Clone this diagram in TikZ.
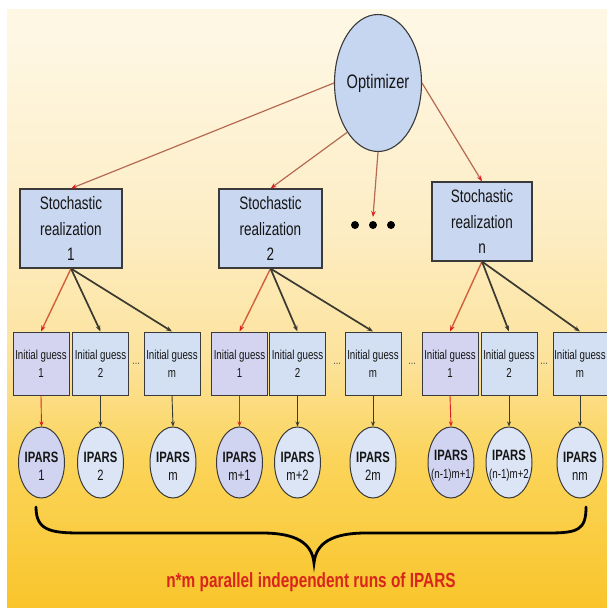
\documentclass[tikz,border=0pt]{standalone}
\usepackage{fontspec}
\setmainfont{Liberation Sans}
\newfontfamily\nf[FakeStretch=0.75]{Liberation Sans}
\usetikzlibrary{arrows.meta,shapes.geometric}
\definecolor{bgA}{HTML}{F9C52B}
\definecolor{bgB}{HTML}{FBD45A}
\definecolor{bgC}{HTML}{FCE29A}
\definecolor{bgD}{HTML}{FDEDC4}
\definecolor{bgE}{HTML}{FEF7E4}
\definecolor{bordc}{HTML}{3A3A3A}
\definecolor{optfill}{HTML}{C6D5F0}
\definecolor{sfill}{HTML}{C9D7F0}
\definecolor{gfill}{HTML}{D3E0F3}
\definecolor{gfillp}{HTML}{D4D4F0}
\definecolor{pfill}{HTML}{DBE5F5}
\definecolor{pfillp}{HTML}{D1D4F1}
\definecolor{oline}{HTML}{B56A52}
\definecolor{otip}{HTML}{E02020}
\definecolor{rline}{HTML}{D2603A}
\definecolor{bline}{HTML}{3A3A30}
\definecolor{textred}{HTML}{D8261C}
\definecolor{txt}{HTML}{151515}
\pgfdeclareverticalshading{bgshade}{100bp}{color(0bp)=(bgA); color(25bp)=(bgA); color(37.5bp)=(bgB); color(45.5bp)=(bgC); color(56.5bp)=(bgD); color(73bp)=(bgE); color(100bp)=(bgE)}
\begin{document}
\begin{tikzpicture}[x=1pt,y=-1pt,
  opt/.style={ellipse, draw=bordc, line width=1.1pt, fill=optfill, inner sep=0pt, minimum width=87pt, minimum height=137pt},
  sbox/.style={rectangle, draw=bordc, line width=1.1pt, fill=sfill, inner sep=0pt, minimum height=79pt, align=center, text=txt, font={\nf\fontsize{18}{25.5}\selectfont}},
  gbox/.style={rectangle, draw=bordc, line width=1pt, fill=gfill, inner sep=0pt, minimum width=56pt, minimum height=63pt, align=center, text=txt, font={\nf\fontsize{13}{18}\selectfont}},
  ipars/.style={ellipse, draw=bordc, line width=1pt, fill=pfill, inner sep=0pt, minimum width=46pt, minimum height=71pt},
  iptext/.style={align=center, text=txt, inner sep=0pt, yshift=-3.5pt, font={\nf\fontsize{15}{18}\selectfont}},
  gdots/.style={text=gray!60!black, inner sep=0pt, font={\nf\fontsize{12}{12}\selectfont}},
  bigdot/.style={circle, fill=black, inner sep=0pt, minimum size=8pt},
  oarrow/.style={draw=oline, line width=1.2pt, -{Stealth[length=6pt,width=4.5pt,color=otip]}},
  rarrow/.style={draw=rline, line width=1.4pt, -{Stealth[length=6pt,width=4.5pt,color=otip]}},
  barrow/.style={draw=bline, line width=1.7pt, -{Stealth[length=6pt,width=4.5pt]}},
  rthin/.style={draw=otip, line width=0.9pt, -{Stealth[length=5pt,width=4pt]}},
  bthin/.style={draw=bline, line width=0.9pt, -{Stealth[length=5pt,width=4pt]}}
]
\useasboundingbox (0,0) rectangle (607,608);
\fill[white] (0,0) rectangle (607,608);
\shade[shading=bgshade] (7,9) rectangle (607,608);

% optimizer
\node[opt, label={[text=txt, font={\nf\fontsize{19.5}{19.5}\selectfont}]center:Optimizer}] (opt) at (378,83) {};

% stochastic realizations
\node[sbox, minimum width=102pt] (s1) at (71,228.5) {Stochastic\\realization\\1};
\node[sbox, minimum width=103pt] (s2) at (270.5,228.5) {Stochastic\\realization\\2};
\node[sbox, minimum width=100pt] (sn) at (482,221.5) {Stochastic\\realization\\n};

% big dots
\node[bigdot] (d1) at (355,225) {};
\node[bigdot] (d2) at (373,225) {};
\node[bigdot] (d3) at (391,225) {};
\coordinate (dtop) at (373,217);

% initial guesses
\node[gbox, fill=gfillp] (g11) at (41,363.5) {Initial guess\\1};
\node[gbox] (g12) at (100.5,363.5) {Initial guess\\2};
\node[gbox] (g1m) at (172,363.5) {Initial guess\\m};
\node[gbox, fill=gfillp] (g21) at (239.5,363.5) {Initial guess\\1};
\node[gbox] (g22) at (297.5,363.5) {Initial guess\\2};
\node[gbox] (g2m) at (373,363.5) {Initial guess\\m};
\node[gbox, fill=gfillp] (gn1) at (450,363.5) {Initial guess\\1};
\node[gbox] (gn2) at (509,363.5) {Initial guess\\2};
\node[gbox, minimum width=54pt] (gnm) at (580,363.5) {Initial guess\\m};

\node[gdots] (e1) at (136,364) {...};
\node[gdots] (e2) at (337,364) {...};
\node[gdots] (e3) at (412,364) {...};
\node[gdots] (e4) at (544,364) {...};

% IPARS runs
\node[ipars, fill=pfillp, label={[iptext]center:{\bfseries IPARS\\1}}] (p1) at (41.5,462.5) {};
\node[ipars, label={[iptext]center:{\bfseries IPARS\\2}}] (p2) at (100.5,462.5) {};
\node[ipars, label={[iptext]center:{\bfseries IPARS\\m}}] (p3) at (173,462.5) {};
\node[ipars, fill=pfillp, label={[iptext]center:{\bfseries IPARS\\m+1}}] (p4) at (239.5,462.5) {};
\node[ipars, label={[iptext]center:{\bfseries IPARS\\m+2}}] (p5) at (297.5,462.5) {};
\node[ipars, label={[iptext]center:{\bfseries IPARS\\2m}}] (p6) at (373,462.5) {};
\node[ipars, fill=pfillp, label={[iptext]center:{{\bfseries IPARS}\\{\fontsize{13}{18}\selectfont(n-1)m+1}}}] (p7) at (451,462.5) {};
\node[ipars, label={[iptext]center:{{\bfseries IPARS}\\{\fontsize{13}{18}\selectfont(n-1)m+2}}}] (p8) at (509,462.5) {};
\node[ipars, label={[iptext]center:{\bfseries IPARS\\nm}}] (p9) at (580,462.5) {};

% optimizer connectors
\draw[oarrow] (opt.west) -- (s1.north);
\draw[oarrow] (opt.-122) -- (s2.north);
\draw[oarrow] (opt.south) -- (dtop);
\draw[oarrow] (opt.east) -- (sn.north);

% realization to guesses
\draw[rarrow] (s1.south) -- (g11.north);
\draw[barrow] (s1.south) -- (g12.north);
\draw[barrow] (s1.south) -- (g1m.north);
\draw[rarrow] (s2.south) -- (g21.north);
\draw[barrow] (s2.south) -- (g22.north);
\draw[barrow] (s2.south) -- (g2m.north);
\draw[rarrow] (sn.south) -- (gn1.north);
\draw[barrow] (sn.south) -- (gn2.north);
\draw[barrow] (sn.south) -- (gnm.north);

% guesses to runs
\draw[rthin] (g11.south) -- (p1.north);
\draw[bthin] (g12.south) -- (p2.north);
\draw[bthin] (g1m.south) -- (p3.north);
\draw[rthin] (g21.south) -- (p4.north);
\draw[bthin] (g22.south) -- (p5.north);
\draw[bthin] (g2m.south) -- (p6.north);
\draw[rthin] (gn1.south) -- (p7.north);
\draw[bthin] (gn2.south) -- (p8.north);
\draw[bthin] (gnm.south) -- (p9.north);

% brace
\draw[line width=2.8pt, black, line cap=round]
  (36,507) .. controls (36,530) and (50,533) .. (80,533)
  -- (262,533) .. controls (296,533) and (312,543) .. (314,563)
  .. controls (316,543) and (332,533) .. (366,533)
  -- (548,533) .. controls (578,533) and (586,530) .. (586,507);

\node[text=textred, inner sep=0pt, font={\nf\bfseries\fontsize{20.5}{22}\selectfont}] (cap) at (311,582) {n*m parallel independent runs of IPARS};
\end{tikzpicture}
\end{document}
